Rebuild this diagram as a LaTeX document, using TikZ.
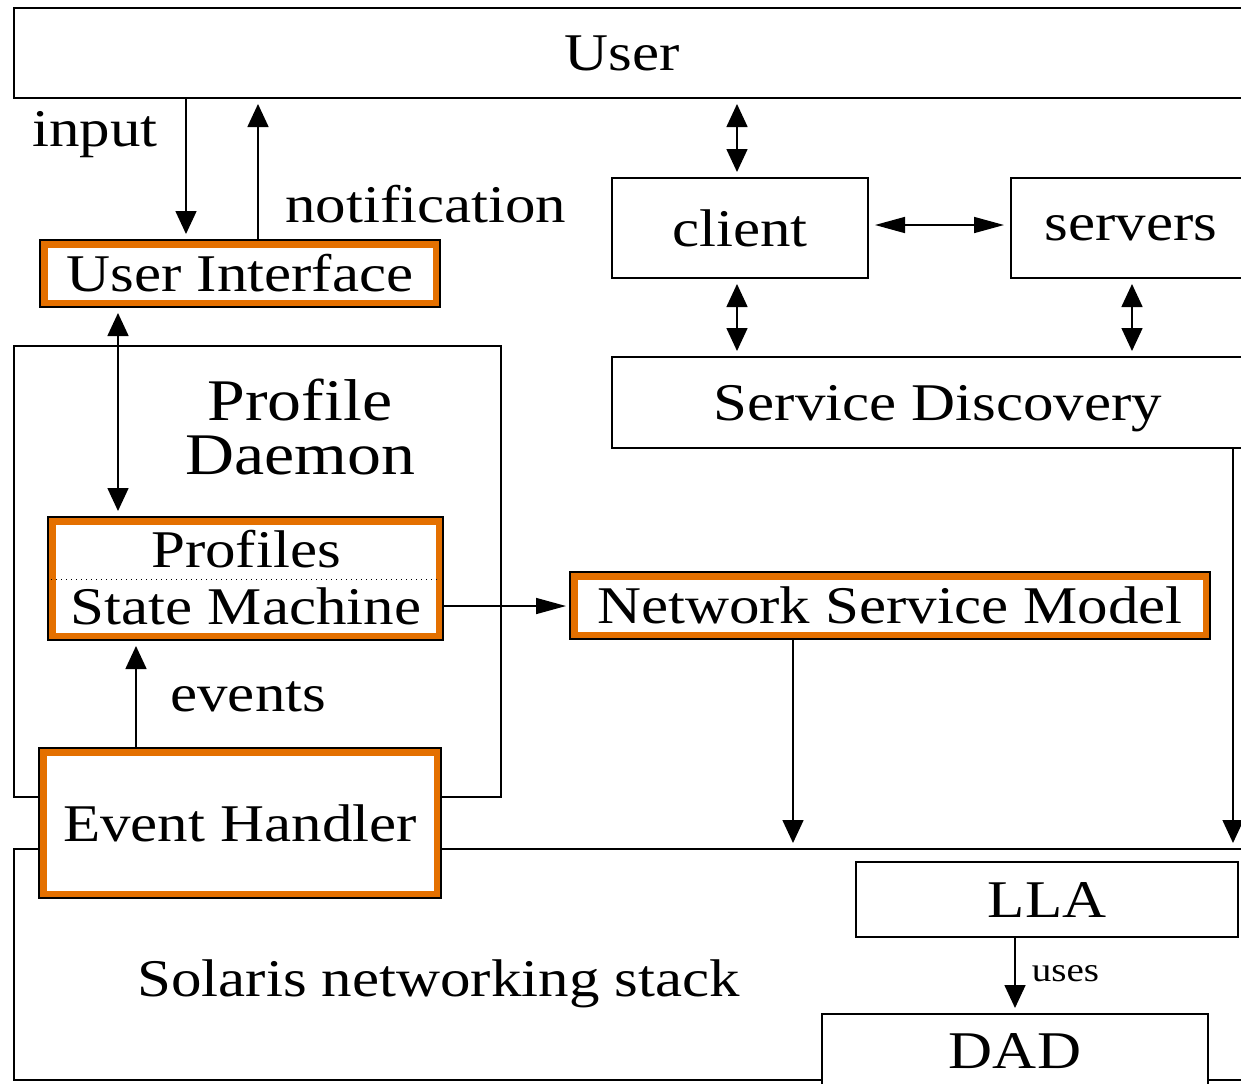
\documentclass[tikz,border=0pt]{standalone}
\usepackage{fontspec}
\setmainfont{Liberation Serif}[FakeStretch=1.15]
\usetikzlibrary{arrows.meta}
\definecolor{hiorange}{RGB}{228,112,0}
\newcommand\bigtxt{\fontsize{26.5}{32}\selectfont}
\newcommand\titletxt{\fontsize{29.5}{27}\selectfont}
\newcommand\smalltxt{\fontsize{17}{20}\selectfont}
\begin{document}
\begin{tikzpicture}[x=0.5pt, y=-0.5pt,
  plainbox/.style={draw, line width=1pt, fill=white, inner sep=0pt, font=\bigtxt},
  hibox/.style={plainbox, path picture={\draw[hiorange, line width=7.5pt]
      (path picture bounding box.south west) rectangle (path picture bounding box.north east);}},
  lbl/.style={font=\bigtxt, inner sep=0pt},
  vtip/.tip={Triangle[length=11.5pt, width=10.5pt]},
  htip/.tip={Triangle[length=15pt, width=8pt]},
  varr/.style={line width=0.8pt, -vtip, shorten >=2.5pt},
  darr/.style={line width=0.8pt, vtip-vtip, shorten >=2.5pt, shorten <=2.5pt},
  harr/.style={line width=0.8pt, -htip, shorten >=1.5pt},
  dharr/.style={line width=0.8pt, htip-htip, shorten >=3pt, shorten <=3pt}]
\useasboundingbox (0,0) rectangle (1241,1083);
\clip (0,0) rectangle (1241,1083);

% column and row guides for the connectors
\coordinate (xin) at (186,0);
\coordinate (xnote) at (258,0);
\coordinate (xud) at (118,0);
\coordinate (xev) at (136,0);
\coordinate (xcl) at (737,0);
\coordinate (xsv) at (1132,0);
\coordinate (xnsm) at (793,0);
\coordinate (xsd) at (1233,0);
\coordinate (xlla) at (1015,0);
\coordinate (ycs) at (0,225);
\coordinate (ysm) at (0,606);
\coordinate (ydot) at (0,579);

% large frames
\node[plainbox, minimum width=643pt, minimum height=45pt] (user) at (657,53) {};
\node[lbl, anchor=base] (usertxt) at (622,70) {User};

\node[plainbox, minimum width=243.5pt, minimum height=225.5pt] (pd) at (257.5,571.5) {};
\node[font=\titletxt, inner sep=0pt, anchor=base] (pdtxt1) at (300,420) {Profile};
\node[font=\titletxt, inner sep=0pt, anchor=base] (pdtxt2) at (300,474) {Daemon};

\node[plainbox, minimum width=643pt, minimum height=115.5pt] (sol) at (657,964.5) {};
\node[lbl, anchor=base west] (soltxt) at (137,996) {Solaris networking stack};

% highlighted components
\node[hibox, minimum width=200pt, minimum height=33.5pt] (ui) at (240,273.5) {User Interface};
\node[hibox, minimum width=197.5pt, minimum height=61.5pt] (psm) at (245.5,578.5) {};
\node[lbl, anchor=base] (proftxt) at (246,567) {Profiles};
\node[lbl, anchor=base] (smtxt) at (246,624) {State Machine};
\draw[dotted, line width=0.5pt, shorten <=2pt, shorten >=2pt] (psm.west |- ydot) -- (psm.east |- ydot);
\node[hibox, minimum width=320pt, minimum height=33.5pt] (nsm) at (890,605.5) {Network Service Model};
\node[hibox, minimum width=201pt, minimum height=75pt] (eh) at (240,823) {Event Handler};

% service side
\node[plainbox, minimum width=128pt, minimum height=50pt, text depth=0pt] (client) at (740,228) {client};
\node[plainbox, minimum width=120pt, minimum height=50pt] (servers) at (1131,228) {servers};
\node[plainbox, minimum width=326pt, minimum height=45.5pt, text depth=0pt] (sd) at (938,402.5) {Service Discovery};

% networking stack internals
\node[plainbox, minimum width=191pt, minimum height=37.5pt] (lla) at (1047,899.5) {LLA};
\node[plainbox, minimum width=193pt, minimum height=37pt] (dad) at (1015,1051) {DAD};

% labels
\node[lbl, anchor=base west] (inputlbl) at (32,146) {input};
\node[lbl, anchor=base west] (notelbl) at (285,222) {notification};
\node[lbl, anchor=base west] (eventslbl) at (170,711) {events};

% connectors
\draw[varr] (user.south -| xin) -- (ui.north -| xin);
\draw[varr] (ui.north -| xnote) -- (user.south -| xnote);
\draw[darr] (ui.south -| xud) -- (psm.north -| xud);
\draw[varr] (eh.north -| xev) -- (psm.south -| xev);
\draw[harr] (psm.east |- ysm) -- (nsm.west |- ysm);
\draw[varr] (nsm.south -| xnsm) -- (sol.north -| xnsm);
\draw[darr] (user.south -| xcl) -- (client.north -| xcl);
\draw[dharr] (client.east |- ycs) -- (servers.west |- ycs);
\draw[darr] (client.south -| xcl) -- (sd.north -| xcl);
\draw[darr] (servers.south -| xsv) -- (sd.north -| xsv);
\draw[varr] (sd.south -| xsd) -- (sol.north -| xsd);
\draw[varr] (lla.south -| xlla) -- (dad.north -| xlla)
  node[midway, right, font=\smalltxt, inner sep=0pt, xshift=8pt, yshift=1pt] (useslbl) {uses};
\end{tikzpicture}
\end{document}
